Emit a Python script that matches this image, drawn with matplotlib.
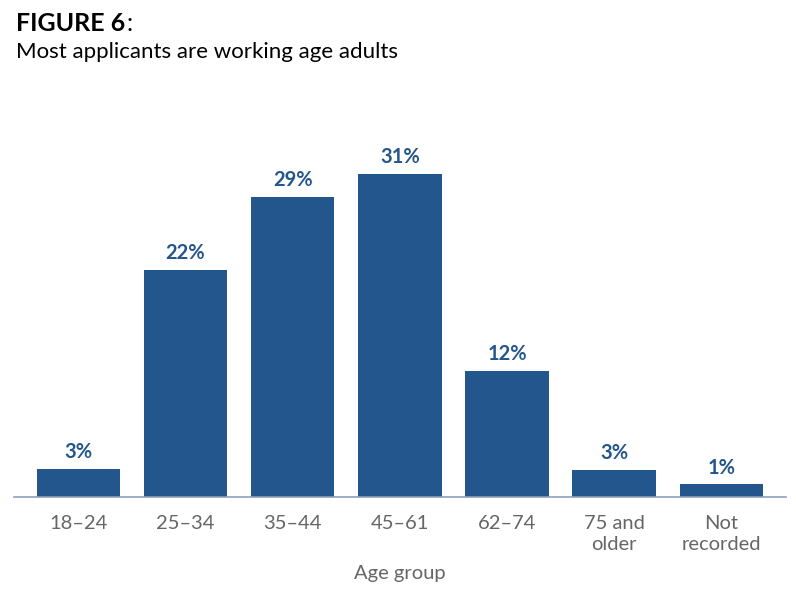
import matplotlib.pyplot as plt

# values (percent of applicants)
groups = ["18\u201324", "25\u201334", "35\u201344", "45\u201361", "62\u201374", "75 and\nolder", "Not\nrecorded"]
shares = [2.7, 21.8, 28.8, 31.0, 12.1, 2.6, 1.2]

BAR = "#23568d"
GREY = "#666666"

plt.rcParams['font.family'] = ['Lato', 'DejaVu Sans']

fig = plt.figure(figsize=(7.96, 6.0), dpi=100)
ax = fig.add_axes([0.0176, 0.1717, 0.9694, 0.66])

x = list(range(len(groups)))
bars = ax.bar(x, shares, width=0.78, color=BAR)
for b, v in zip(bars, shares):
    ax.text(b.get_x() + b.get_width() / 2, v + 0.65, f"{v:.0f}%",
            ha="center", va="bottom", fontsize=14.5, fontweight="bold", color=BAR)

ax.set_xlim(-0.6, len(groups) - 0.4)
ax.set_ylim(0, 38)
ax.set_xticks(x)
ax.set_xticklabels(groups, fontsize=14.5, color=GREY, linespacing=1.25)
ax.tick_params(axis="x", length=0, pad=13)
ax.set_yticks([])
for s in ["top", "right", "left"]:
    ax.spines[s].set_visible(False)
ax.spines["bottom"].set_color("#8da0bb")
ax.spines["bottom"].set_linewidth(1.2)
ax.set_xlabel("Age group", fontsize=14.5, color=GREY, labelpad=9)

t = fig.text(0.02, 0.948, "FIGURE 6", fontsize=18, fontweight="bold", va="baseline", color="black")
fig.canvas.draw()
bb = t.get_window_extent().transformed(fig.transFigure.inverted())
fig.text(bb.x1 + 0.002, 0.948, ":", fontsize=18, va="baseline", color="black")
fig.text(0.02, 0.903, "Most applicants are working age adults", fontsize=16, va="baseline", color="black")

fig.savefig("out.png", dpi=100)
